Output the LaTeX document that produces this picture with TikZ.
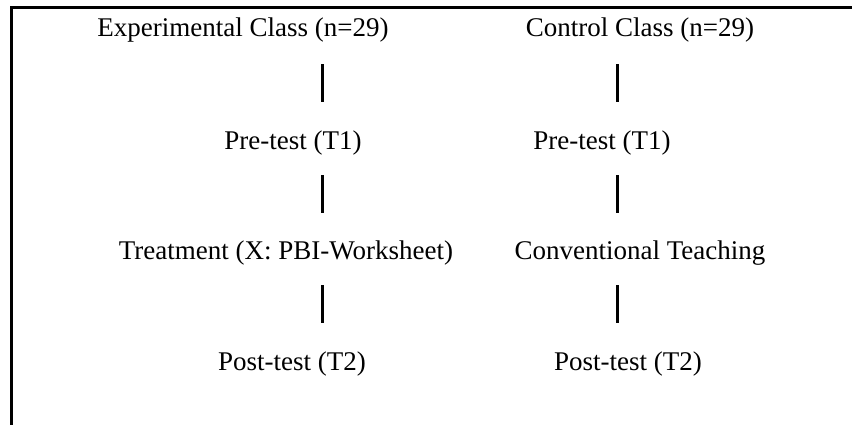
\documentclass[tikz,border=0pt]{standalone}
\usepackage{fontspec}
\setmainfont{Liberation Serif}
\usetikzlibrary{positioning}

\begin{document}
\begin{tikzpicture}[x=0.5pt, y=-0.5pt,
lbl/.style={inner sep=0pt, font=\fontsize{13.5}{15}\selectfont},
bar/.style={line width=1.5pt},
frame/.style={line width=1.5pt}
]
\useasboundingbox (0,0) rectangle (852,425);

% outline of the table cell
\coordinate (topL) at (11,7);
\coordinate (topR) at (852,7);
\coordinate (botL) at (11,425);
\draw[frame] (topR) -- (topL) -- (botL);

% experimental group
\node[lbl] (exp0) at (243,30) {Experimental Class (n=29)};
\node[lbl] (exp1) at (293,143) {Pre-test (T1)};
\node[lbl] (exp2) at (286,253) {Treatment (X: PBI-Worksheet)};
\node[lbl] (exp3) at (292,364) {Post-test (T2)};

% control group
\node[lbl] (ctl0) at (640,30) {Control Class (n=29)};
\node[lbl] (ctl1) at (602,143) {Pre-test (T1)};
\node[lbl] (ctl2) at (640,253) {Conventional Teaching};
\node[lbl] (ctl3) at (628,364) {Post-test (T2)};

% bars between the steps
\coordinate (e0) at (322,64);  \coordinate (e1) at (322,102);
\coordinate (e2) at (322,175); \coordinate (e3) at (322,213);
\coordinate (e4) at (322,285); \coordinate (e5) at (322,323);
\coordinate (c0) at (617,64);  \coordinate (c1) at (617,102);
\coordinate (c2) at (617,175); \coordinate (c3) at (617,213);
\coordinate (c4) at (617,285); \coordinate (c5) at (617,323);

\draw[bar] (e0) -- (e1);
\draw[bar] (e2) -- (e3);
\draw[bar] (e4) -- (e5);
\draw[bar] (c0) -- (c1);
\draw[bar] (c2) -- (c3);
\draw[bar] (c4) -- (c5);

\end{tikzpicture}
\end{document}
